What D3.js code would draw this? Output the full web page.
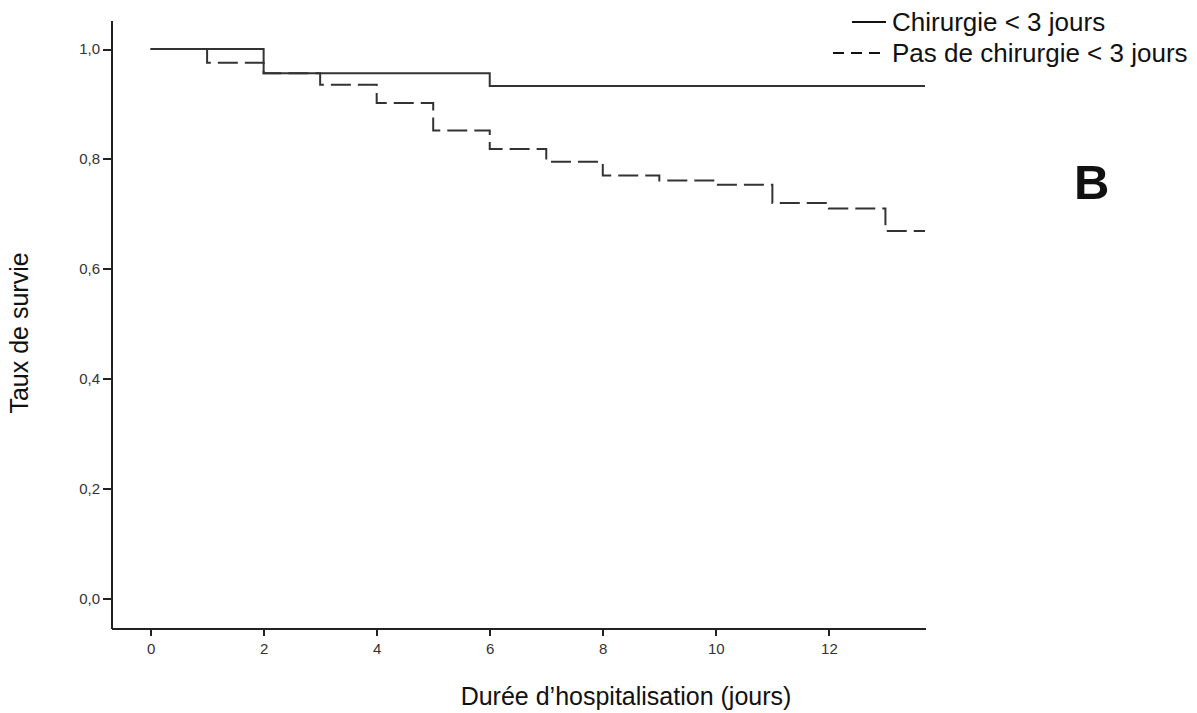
<!DOCTYPE html>
<html>
<head>
<meta charset="utf-8">
<script src="https://cdn.jsdelivr.net/npm/d3@7"></script>
<style>
	body {margin:0; background:#fff;}
	.axis path, .axis line {stroke:#222; stroke-width:2; shape-rendering:crispEdges;}
	.title {font-family:"Liberation Sans", Arial, sans-serif; fill:#111;}
	.curve {fill:none; stroke:#333; stroke-width:2;}
</style>
</head>
<body>
<div class="c_chart"></div>
<script>
//Données
const timesChir = [0, 2, 6, 13.7];
const survChir = [1.0, 0.956, 0.933, 0.933];

const timesPasChir = [0, 1, 2, 3, 4, 5, 6, 7, 8, 9, 10, 11, 12, 13, 13.7];
const survPasChir = [1.0, 0.975, 0.956, 0.935, 0.902, 0.852, 0.818, 0.795, 0.770, 0.761, 0.753, 0.720, 0.710, 0.669, 0.669];

const xTicks = [0, 2, 4, 6, 8, 10, 12];
const yTicks = [0, 0.2, 0.4, 0.6, 0.8, 1.0];
const legendLabels = ["Chirurgie < 3 jours", "Pas de chirurgie < 3 jours"];

/*SVG
------------------------------------------------------
*/
const width = 1197;
const height = 713;

let svg = d3.select(".c_chart")
	.append("svg")
	.attr("width", width)
	.attr("height", height);

let x = d3.scaleLinear()
	.domain([-0.7, 13.7])
	.range([111, 925]);

let y = d3.scaleLinear()
	.domain([-0.054, 1.053])
	.range([628, 20]);

//Axes
svg.append("g")
	.attr("class", "axis")
	.attr("transform", "translate(0,628)")
	.call(d3.axisBottom(x).tickValues(xTicks).tickSizeInner(8).tickSizeOuter(0).tickPadding(7).tickFormat(d3.format("d")));

svg.append("g")
	.attr("class", "axis")
	.attr("transform", "translate(111,0)")
	.call(d3.axisLeft(y).tickValues(yTicks).tickSizeInner(8).tickSizeOuter(0).tickPadding(3)
		.tickFormat(d => d3.format(".1f")(d).replace(".", ",")));

svg.selectAll(".axis text")
	.attr("font-family", null)
	.style("font-family", "'Liberation Sans', Arial, sans-serif")
	.style("font-size", "15px")
	.style("fill", "#333");

//Titres d'axes
svg.append("text")
	.attr("class", "title")
	.attr("x", 626)
	.attr("y", 705)
	.attr("text-anchor", "middle")
	.style("font-size", "25px")
	.text("Durée d’hospitalisation (jours)");

svg.append("text")
	.attr("class", "title")
	.attr("transform", "translate(28,333) rotate(-90)")
	.attr("text-anchor", "middle")
	.style("font-size", "25px")
	.text("Taux de survie");

/*COURBES
------------------------------------------------------
*/
let line = d3.line()
	.x(d => x(d[0]))
	.y(d => y(d[1]))
	.curve(d3.curveStepAfter);

svg.append("path")
	.attr("class", "curve")
	.attr("d", line(d3.zip(timesChir, survChir)));

svg.append("path")
	.attr("class", "curve")
	.attr("stroke-dasharray", "20,7")
	.attr("d", line(d3.zip(timesPasChir, survPasChir)));

/*LEGENDE
------------------------------------------------------
*/
let legend = svg.append("g");

legend.append("line")
	.attr("x1", 852).attr("x2", 886)
	.attr("y1", 22).attr("y2", 22)
	.attr("stroke", "#111").attr("stroke-width", 2);

legend.append("line")
	.attr("x1", 833).attr("x2", 886)
	.attr("y1", 53).attr("y2", 53)
	.attr("stroke", "#111").attr("stroke-width", 2)
	.attr("stroke-dasharray", "11,7");

legend.selectAll(".leg")
	.data(legendLabels)
	.enter()
	.append("text")
	.attr("class", "title leg")
	.attr("x", 892)
	.attr("y", (d, i) => 31 + i * 31)
	.style("font-size", "26px")
	.text(d => d);

svg.append("text")
	.attr("class", "title")
	.attr("x", 1074)
	.attr("y", 199)
	.style("font-size", "49px")
	.style("font-weight", "bold")
	.text("B");
</script>
</body>
</html>
